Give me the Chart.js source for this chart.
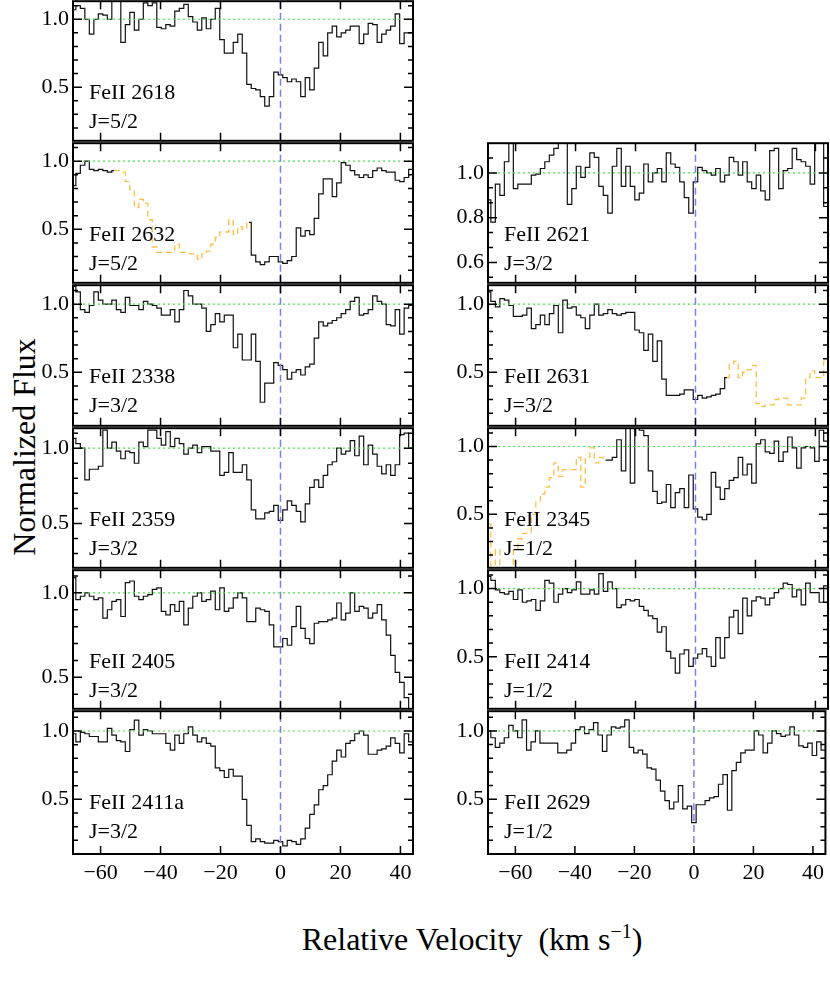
<!DOCTYPE html>
<html>
<head>
<meta charset="utf-8">
<script src="https://cdn.jsdelivr.net/npm/chart.js@4.4.1/dist/chart.umd.min.js"></script>
<style>
html, body { margin: 0; padding: 0; background: #fff; }
body { width: 830px; height: 997px; position: relative; overflow: hidden; font-family: "Liberation Serif", serif; }
canvas { position: absolute; }
.title { position: absolute; font-size: 32px; line-height: 1; color: #000; white-space: nowrap; }
.title sup { font-size: 20px; vertical-align: 12px; line-height: 0; }
</style>
</head>
<body>
<div class="title" style="left:472px;top:923px;transform:translateX(-50%)">Relative Velocity&nbsp; (km s<sup>&minus;1</sup>)</div>
<div class="title" style="left:24px;top:447px;transform:translate(-50%,-50%) rotate(-90deg)">Normalized Flux</div>
<script>
// velocity bin centres (km/s)
var VELOCITY = [-69, -67.5, -66, -64.5, -63, -61.5, -60, -58.5, -57, -55.5, -54, -52.5, -51, -49.5, -48, -46.5,
    -45, -43.5, -42, -40.5, -39, -37.5, -36, -34.5, -33, -31.5, -30, -28.5, -27, -25.5, -24, -22.5, -21, -19.5,
    -18, -16.5, -15, -13.5, -12, -10.5, -9, -7.5, -6, -4.5, -3, -1.5, 0, 1.5, 3, 4.5, 6, 7.5, 9, 10.5, 12, 13.5,
    15, 16.5, 18, 19.5, 21, 22.5, 24, 25.5, 27, 28.5, 30, 31.5, 33, 34.5, 36, 37.5, 39, 40.5, 42, 43.5, 45];

var X_TICKS = [-60, -40, -20, 0, 20, 40];
var Y_TICKS = [0.5, 1.0];
var Y_TICKS_2621 = [0.6, 0.8, 1.0];

var FLUX_2618 = [1.07, 1.1, 1.08, 1.0, 0.89, 1.0, 1.04, 1.03, 1.0, 1.15, 1.15, 0.83, 0.96, 1.05, 0.92, 1.0, 1.12, 1.1, 1.12, 0.94,
    0.93, 0.96, 0.95, 1.06, 1.08, 1.11, 1.02, 0.98, 0.92, 1.01, 0.93, 1.0, 1.08, 0.85, 0.75, 0.75, 0.83, 0.89, 0.75, 0.52,
    0.49, 0.48, 0.43, 0.36, 0.43, 0.61, 0.59, 0.57, 0.54, 0.56, 0.54, 0.43, 0.57, 0.48, 0.64, 0.83, 0.73, 0.9, 0.95, 0.87,
    0.9, 0.92, 0.95, 0.95, 0.82, 0.89, 0.97, 0.96, 0.83, 0.89, 0.92, 0.95, 1.04, 0.82, 0.9, 0.9, 0.9];

var FLUX_2632 = [0.82, 0.91, 0.97, 1.0, 0.94, 0.93, 0.94, 0.93, 0.92, 0.93,
    null, null, null, null, null, null, null, null, null, null, null, null, null, null, null, null, null, null, null,
    null, null, null, null, null, null, null, null, null, null,
    0.55, 0.31, 0.26, 0.24, 0.26, 0.3, 0.3, 0.26, 0.25, 0.27, 0.3, 0.51, 0.45, 0.49, 0.46, 0.58, 0.76, 0.87, 0.87, 0.74, 0.84,
    0.99, 0.97, 0.93, 0.9, 0.88, 0.9, 0.88, 0.93, 0.95, 0.93, 0.92, 0.92, 0.86, 0.85, 0.88, 0.94, 0.94];
var BLEND_2632 = [null, null, null, null, null, null, null, null, null, 0.93,
    0.93, 0.92, 0.85, 0.79, 0.66, 0.72, 0.69, 0.57, 0.37, 0.33, 0.33, 0.33, 0.33, 0.39, 0.33, 0.33, 0.32, 0.32, 0.28, 0.32,
    0.34, 0.39, 0.44, 0.48, 0.48, 0.57, 0.46, 0.52, 0.5, 0.55,
    null, null, null, null, null, null, null, null, null, null, null, null, null, null, null, null, null, null, null, null,
    null, null, null, null, null, null, null, null, null, null, null, null, null, null, null, null, null];

var FLUX_2338 = [1.13, 1.09, 0.96, 0.94, 0.99, 1.09, 1.03, 1.0, 1.0, 1.03, 0.96, 0.94, 1.05, 0.99, 0.99, 0.96, 1.02, 1.0, 0.99, 0.97,
    0.92, 0.92, 0.96, 0.87, 0.96, 1.1, 1.06, 1.0, 1.0, 0.97, 0.8, 0.85, 0.93, 0.87, 0.92, 0.92, 0.68, 0.78, 0.59, 0.59,
    0.78, 0.58, 0.28, 0.42, 0.42, 0.57, 0.55, 0.52, 0.45, 0.5, 0.52, 0.48, 0.54, 0.56, 0.75, 0.87, 0.84, 0.86, 0.88, 0.9,
    0.93, 0.96, 1.02, 1.05, 0.92, 0.93, 0.96, 1.06, 1.02, 1.0, 0.85, 0.84, 0.96, 0.78, 0.97, 0.99, 0.99];

var FLUX_2359 = [1.065, 1.03, 1.0, 0.79, 0.86, 0.86, 0.88, 1.12, 1.0, 1.04, 0.98, 0.93, 0.98, 0.97, 0.9, 1.04, 1.01, 1.12, 1.12, 1.065,
    1.02, 1.11, 1.01, 1.065, 1.03, 0.96, 1.0, 1.02, 0.97, 1.01, 1.01, 0.98, 0.98, 0.82, 0.84, 0.97, 0.84, 0.84, 0.89, 0.79,
    0.59, 0.53, 0.53, 0.57, 0.58, 0.62, 0.52, 0.59, 0.65, 0.62, 0.58, 0.51, 0.63, 0.74, 0.79, 0.74, 0.82, 0.89, 0.91, 1.0,
    0.96, 0.98, 1.05, 0.95, 1.08, 0.89, 1.02, 0.96, 0.88, 0.83, 0.89, 0.82, 0.89, 1.09, 1.1, 1.0, 1.0];

var FLUX_2405 = [1.09, 0.96, 0.98, 1.0, 0.98, 0.96, 0.97, 0.85, 0.9, 0.95, 0.96, 0.86, 1.06, 1.07, 0.98, 0.96, 0.98, 0.99, 1.02, 1.03,
    0.89, 0.87, 0.93, 0.89, 0.95, 0.81, 0.91, 0.98, 1.0, 0.95, 0.96, 1.01, 0.9, 1.03, 0.89, 0.91, 0.97, 1.0, 0.97, 0.83,
    0.83, 0.91, 0.9, 0.89, 0.81, 0.68, 0.68, 0.73, 0.69, 0.8, 0.92, 0.79, 0.73, 0.7, 0.82, 0.83, 0.83, 0.84, 0.85, 0.94,
    0.84, 0.88, 1.0, 0.89, 0.92, 0.91, 0.85, 0.88, 0.93, 0.84, 0.75, 0.63, 0.53, 0.47, 0.38, 0.31, 0.28];

var FLUX_2411A = [0.98, 0.92, 0.99, 0.98, 0.96, 0.96, 0.92, 0.92, 1.02, 0.97, 0.93, 0.92, 0.85, 1.01, 1.08, 0.97, 1.01, 1.0, 0.98, 0.98,
    0.98, 0.91, 0.86, 0.97, 0.91, 0.98, 1.03, 0.97, 0.92, 0.95, 0.91, 0.89, 0.73, 0.71, 0.66, 0.72, 0.67, 0.67, 0.5, 0.31,
    0.19, 0.21, 0.19, 0.18, 0.18, 0.2, 0.19, 0.16, 0.2, 0.19, 0.17, 0.21, 0.29, 0.39, 0.46, 0.57, 0.6, 0.68, 0.78, 0.86,
    0.81, 0.91, 0.93, 0.98, 1.0, 0.97, 0.83, 0.83, 0.86, 0.87, 0.89, 0.95, 0.91, 0.84, 0.98, 0.92, 0.92];

var FLUX_2621 = [0.88, 0.78, 0.95, 0.9, 1.05, 1.15, 0.93, 0.95, 0.95, 0.95, 0.99, 0.995, 1.02, 1.05, 1.08, 1.11, 1.15, 1.15, 0.86, 0.93,
    1.03, 0.98, 1.025, 1.09, 1.07, 0.94, 0.9, 0.82, 1.03, 1.11, 0.94, 1.03, 0.94, 0.88, 0.91, 1.04, 0.96, 1.0, 1.02, 0.96,
    1.09, 1.04, 1.025, 0.96, 0.89, 0.82, 0.96, 1.025, 1.01, 1.0, 0.99, 1.02, 0.96, 0.99, 1.07, 1.05, 0.99, 1.05, 0.96, 0.93,
    0.99, 0.92, 0.88, 1.1, 1.11, 0.93, 1.01, 1.02, 1.11, 1.06, 1.05, 1.03, 0.95, 1.15, 1.15, 0.85, 0.85];

var FLUX_2631 = [1.09, 1.02, 0.98, 1.04, 1.03, 0.99, 0.91, 0.91, 0.92, 0.97, 0.82, 0.85, 0.92, 0.85, 0.93, 0.99, 0.79, 1.03, 0.97, 0.98,
    0.92, 0.9, 0.82, 0.92, 1.0, 0.92, 0.93, 0.96, 0.93, 0.92, 0.93, 0.94, 0.94, 0.81, 0.79, 0.66, 0.78, 0.58, 0.73, 0.45,
    0.33, 0.33, 0.33, 0.34, 0.37, 0.37, 0.3, 0.33, 0.31, 0.32, 0.33, 0.34, 0.38, 0.46,
    null, null, null, null, null, null, null, null, null, null, null, null, null, null, null, null, null, null, null, null,
    null, null, null];
var BLEND_2631 = [null, null, null, null, null, null, null, null, null, null, null, null, null, null, null, null, null, null, null, null,
    null, null, null, null, null, null, null, null, null, null, null, null, null, null, null, null, null, null, null, null,
    null, null, null, null, null, null, null, null, null, null, null, null, null,
    0.46, 0.56, 0.58, 0.46, 0.5, 0.52, 0.55, 0.27, 0.25, 0.26, 0.26, 0.3, 0.31, 0.31, 0.26, 0.26, 0.26, 0.31, 0.46, 0.51,
    0.46, 0.46, 0.58, 0.7];

var FLUX_2345 = [null, null, null, null, null, null, null, null, null, null, null, null, null, null, null, null, null, null, null, null,
    null, null, null, null, null, null,
    0.9, 0.9, 0.92, 1.05, 0.82, 1.15, 0.73, 1.15, 1.12, 1.08, 0.82, 0.67, 0.58, 0.59, 0.72, 0.55, 0.66, 0.69, 0.55, 0.79,
    0.54, 0.48, 0.46, 0.5, 0.81, 0.7, 0.61, 0.69, 0.75, 0.77, 0.92, 0.79, 0.87, 0.73, 1.02, 1.05, 0.96, 0.95, 1.04, 0.89,
    0.96, 1.07, 0.99, 0.84, 0.99, 1.0, 0.99, 0.89, 1.12, 1.04, 1.04];
var BLEND_2345 = [0.43, 0.08, 0.24, 0.05, 0.05, 0.05, 0.24, 0.32, 0.36, 0.36, 0.5, 0.59, 0.65, 0.7, 0.77, 0.88, 0.78, 0.83, 0.83, 0.83,
    0.92, 0.7, 0.92, 0.99, 0.88, 0.92, 0.9,
    null, null, null, null, null, null, null, null, null, null, null, null, null, null, null, null, null, null, null, null,
    null, null, null, null, null, null, null, null, null, null, null, null, null, null, null, null, null, null, null, null,
    null, null, null, null, null, null, null, null, null, null];

var FLUX_2414 = [1.09, 1.06, 0.99, 0.97, 0.96, 0.98, 0.92, 0.99, 0.9, 0.91, 0.92, 0.84, 0.91, 1.06, 1.04, 0.9, 0.96, 1.0, 0.97, 0.99,
    1.05, 0.96, 0.96, 0.99, 0.96, 1.11, 0.98, 1.05, 1.0, 0.86, 0.88, 0.92, 0.91, 0.92, 0.87, 0.84, 0.8, 0.78, 0.68, 0.72,
    0.54, 0.49, 0.38, 0.52, 0.55, 0.43, 0.49, 0.52, 0.56, 0.5, 0.43, 0.64, 0.49, 0.64, 0.79, 0.84, 0.67, 0.93, 0.8, 0.91,
    0.94, 0.93, 0.88, 0.93, 0.97, 1.0, 1.04, 1.03, 0.94, 0.99, 0.88, 1.04, 0.97, 0.97, 0.9, 1.02, 1.02];

var FLUX_2629 = [1.0, 0.95, 0.88, 0.91, 0.95, 1.04, 1.0, 0.95, 1.08, 0.86, 0.92, 1.0, 0.91, 0.91, 0.91, 0.91, 0.84, 0.84, 0.86, 0.91,
    1.01, 1.03, 0.98, 1.01, 1.06, 0.97, 0.85, 0.97, 1.03, 1.02, 1.03, 1.08, 0.88, 0.84, 0.86, 0.83, 0.73, 0.72, 0.64, 0.56,
    0.49, 0.43, 0.48, 0.6, 0.43, 0.45, 0.33, 0.46, 0.46, 0.49, 0.51, 0.52, 0.61, 0.68, 0.42, 0.71, 0.77, 0.84, 0.86, 0.86,
    1.0, 0.97, 0.84, 0.91, 1.0, 0.98, 0.96, 0.97, 1.03, 0.97, 0.89, 0.88, 0.91, 0.82, 0.92, 0.86, 0.86];

var X_MIN = -69.2, X_MAX = 44.2;

// col 0 = left, col 1 = right; row index into ROW_TOPS
var PANELS = [
    { col: 0, row: 0, line: 'FeII 2618', j: 'J=5/2', flux: FLUX_2618, yMin: 0.105, yMax: 1.133, yTicks: Y_TICKS, minor: 0.1 },
    { col: 0, row: 1, line: 'FeII 2632', j: 'J=5/2', flux: FLUX_2632, blend: BLEND_2632, yMin: 0.107, yMax: 1.132, yTicks: Y_TICKS, minor: 0.1 },
    { col: 0, row: 2, line: 'FeII 2338', j: 'J=3/2', flux: FLUX_2338, yMin: 0.107, yMax: 1.139, yTicks: Y_TICKS, minor: 0.1 },
    { col: 0, row: 3, line: 'FeII 2359', j: 'J=3/2', flux: FLUX_2359, yMin: 0.205, yMax: 1.133, yTicks: Y_TICKS, minor: 0.1 },
    { col: 0, row: 4, line: 'FeII 2405', j: 'J=3/2', flux: FLUX_2405, yMin: 0.314, yMax: 1.134, yTicks: Y_TICKS, minor: 0.1 },
    { col: 0, row: 5, line: 'FeII 2411a', j: 'J=3/2', flux: FLUX_2411A, yMin: 0.1, yMax: 1.145, yTicks: Y_TICKS, minor: 0.1, bottom: true },
    { col: 1, row: 1, line: 'FeII 2621', j: 'J=3/2', flux: FLUX_2621, yMin: 0.509, yMax: 1.133, yTicks: Y_TICKS_2621, minor: 0.2 / 3 },
    { col: 1, row: 2, line: 'FeII 2631', j: 'J=3/2', flux: FLUX_2631, blend: BLEND_2631, yMin: 0.107, yMax: 1.139, yTicks: Y_TICKS, minor: 0.1 },
    { col: 1, row: 3, line: 'FeII 2345', j: 'J=1/2', flux: FLUX_2345, blend: BLEND_2345, yMin: 0.106, yMax: 1.135, yTicks: Y_TICKS, minor: 0.1 },
    { col: 1, row: 4, line: 'FeII 2414', j: 'J=1/2', flux: FLUX_2414, yMin: 0.118, yMax: 1.135, yTicks: Y_TICKS, minor: 0.1 },
    { col: 1, row: 5, line: 'FeII 2629', j: 'J=1/2', flux: FLUX_2629, yMin: 0.1, yMax: 1.144, yTicks: Y_TICKS, minor: 0.1, bottom: true }
];

var ROW_TOPS = [0, 142, 284, 427, 569, 710, 854];
var COLS = [
    { left: 0, width: 420, axisW: 73, padRight: 7 },
    { left: 420, width: 410, axisW: 68, padRight: 2 }
];
var PAD = 16;
var FONT = 'Liberation Serif';

// frame, inward ticks and line labels
var panelDecor = {
    id: 'panelDecor',
    afterDatasetsDraw: function (chart) {
        var p = chart.options.plugins.panelDecor;
        var ctx = chart.ctx, a = chart.chartArea;
        var xs = chart.scales.x, ys = chart.scales.y;
        ctx.save();
        ctx.strokeStyle = '#000';
        ctx.lineWidth = 1.5;
        ctx.beginPath();
        X_TICKS.forEach(function (v) {
            var px = xs.getPixelForValue(v);
            ctx.moveTo(px, a.bottom); ctx.lineTo(px, a.bottom - 8);
            ctx.moveTo(px, a.top); ctx.lineTo(px, a.top + 8);
        });
        var start = Math.ceil(p.yMin / p.minor - 1e-6);
        for (var k = start; k * p.minor <= p.yMax + 1e-6; k++) {
            var v = k * p.minor;
            var major = p.yTicks.some(function (t) { return Math.abs(t - v) < 1e-6; });
            var len = major ? 9 : 5;
            var py = ys.getPixelForValue(v);
            ctx.moveTo(a.left, py); ctx.lineTo(a.left + len, py);
            ctx.moveTo(a.right, py); ctx.lineTo(a.right - len, py);
        }
        ctx.stroke();
        ctx.lineWidth = 2;
        ctx.strokeRect(a.left, a.top, a.right - a.left, a.bottom - a.top);
        ctx.fillStyle = '#000';
        ctx.font = '22px "' + FONT + '"';
        ctx.textBaseline = 'alphabetic';
        ctx.textAlign = 'left';
        ctx.fillText(p.line, a.left + 16, a.top + 98);
        ctx.fillText(p.j, a.left + 16, a.top + 127);
        ctx.restore();
    }
};

function toPoints(values) {
    return VELOCITY.map(function (v, i) { return { x: v, y: values[i] }; });
}

PANELS.forEach(function (p) {
    var c = COLS[p.col];
    var top = ROW_TOPS[p.row];
    var h = ROW_TOPS[p.row + 1] - top;
    var padBottom = p.bottom ? 12 : PAD;
    var xAxisH = p.bottom ? 38 : 0;

    var canvas = document.createElement('canvas');
    canvas.width = c.width;
    canvas.height = h + PAD + padBottom + xAxisH;
    canvas.style.left = c.left + 'px';
    canvas.style.top = (top - PAD) + 'px';
    document.body.appendChild(canvas);

    var datasets = [
        { data: [{ x: X_MIN, y: 1 }, { x: X_MAX, y: 1 }], borderColor: 'rgb(70,225,70)', borderWidth: 1.2, borderDash: [2, 3] },
        { data: [{ x: 0, y: p.yMin }, { x: 0, y: p.yMax }], borderColor: 'rgb(125,125,240)', borderWidth: 1.5, borderDash: [7, 4] }
    ];
    if (p.blend) {
        datasets.push({ data: toPoints(p.blend), borderColor: 'rgb(255,190,70)', borderWidth: 1.3, borderDash: [6, 4], stepped: 'middle' });
    }
    datasets.push({ data: toPoints(p.flux), borderColor: '#111', borderWidth: 1.2, stepped: 'middle' });

    new Chart(canvas, {
        type: 'line',
        data: { datasets: datasets },
        options: {
            responsive: false,
            animation: false,
            devicePixelRatio: 1,
            events: [],
            layout: { padding: { top: PAD, bottom: padBottom, left: 0, right: c.padRight } },
            elements: { point: { radius: 0 }, line: { tension: 0, fill: false } },
            plugins: {
                legend: { display: false },
                tooltip: { enabled: false },
                panelDecor: p
            },
            scales: {
                x: {
                    type: 'linear', min: X_MIN, max: X_MAX, display: !!p.bottom,
                    afterBuildTicks: function (s) { s.ticks = X_TICKS.map(function (v) { return { value: v }; }); },
                    afterFit: function (s) { s.height = xAxisH; },
                    grid: { display: false, drawTicks: false }, border: { display: false },
                    ticks: {
                        font: { family: FONT, size: 22 }, color: '#000', padding: 6, maxRotation: 0, autoSkip: false,
                        callback: function (v) { return v < 0 ? '\u2212' + Math.abs(v) : String(v); }
                    }
                },
                y: {
                    type: 'linear', min: p.yMin, max: p.yMax,
                    afterBuildTicks: function (s) { s.ticks = p.yTicks.map(function (v) { return { value: v }; }); },
                    afterFit: function (s) { s.width = c.axisW; },
                    grid: { display: false, drawTicks: false }, border: { display: false },
                    ticks: {
                        font: { family: FONT, size: 22 }, color: '#000', padding: 4, autoSkip: false,
                        callback: function (v) { return v.toFixed(1); }
                    }
                }
            }
        },
        plugins: [panelDecor]
    });
});
</script>
</body>
</html>
